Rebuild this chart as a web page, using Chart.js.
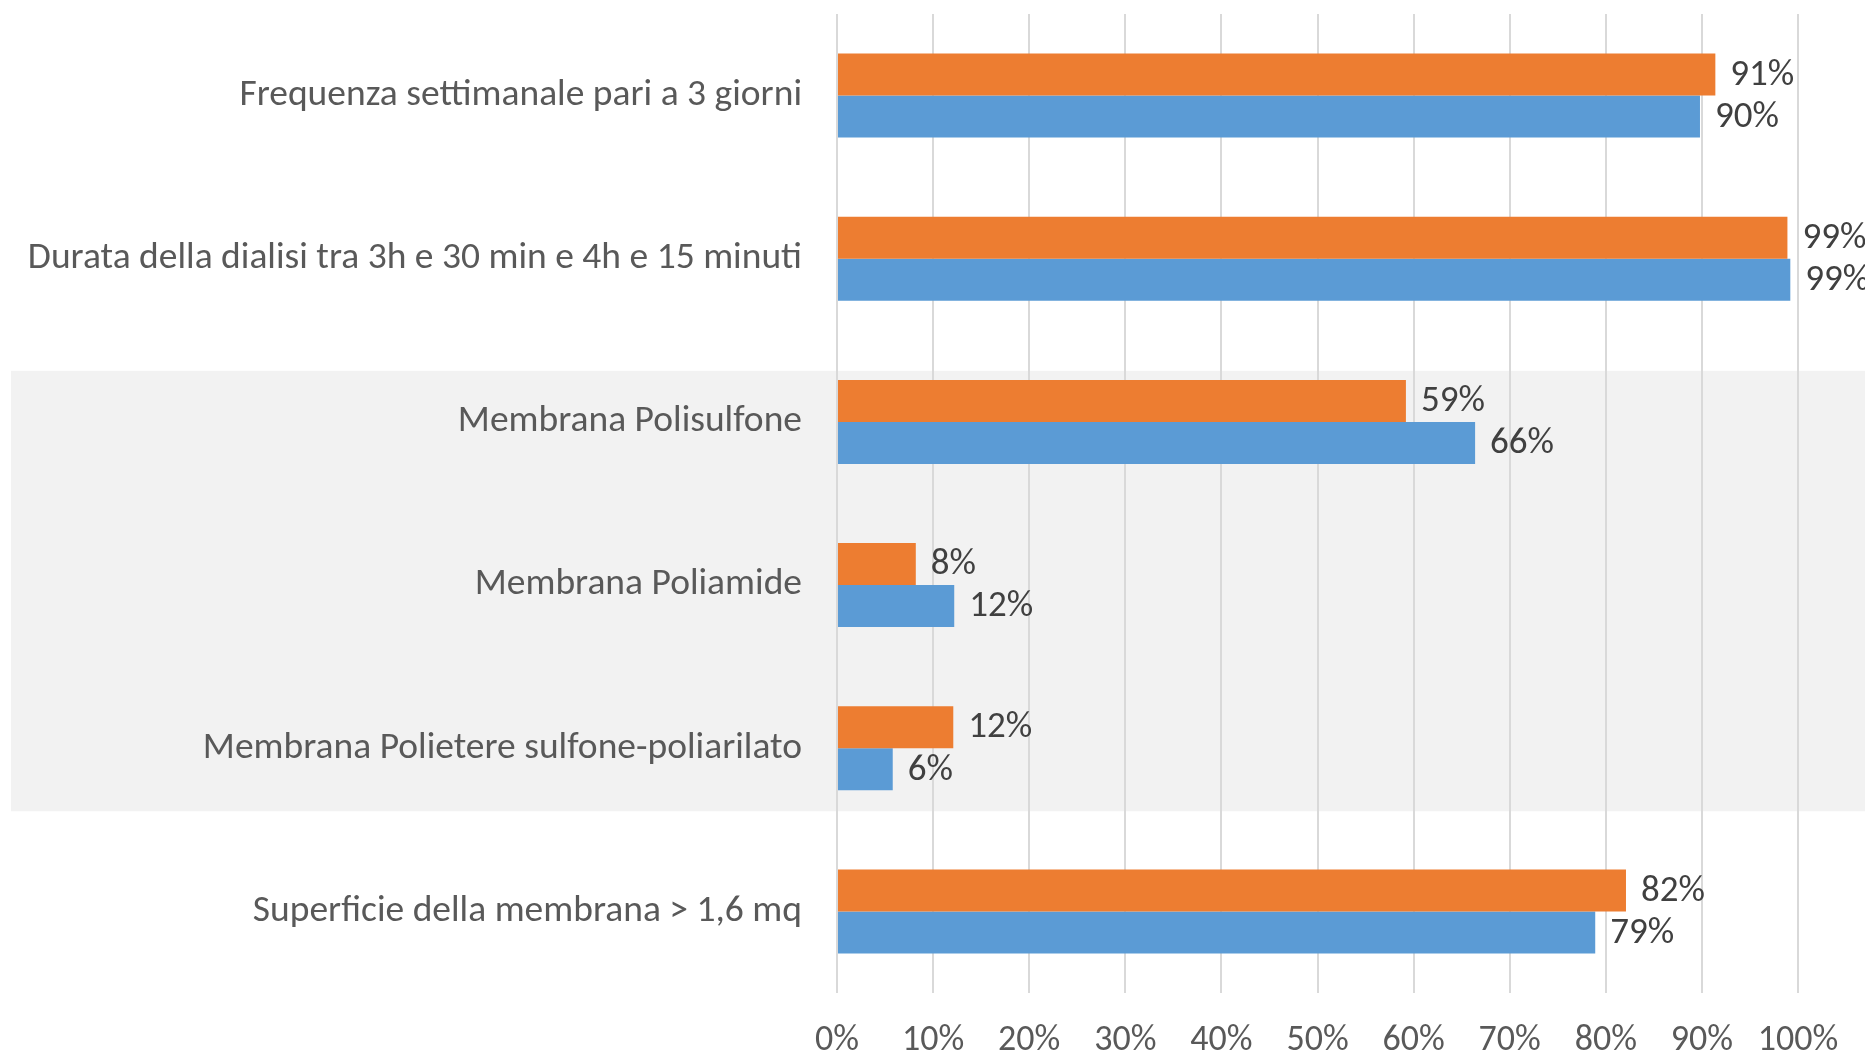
<!DOCTYPE html>
<html>
<head>
<meta charset="utf-8">
<script src="https://cdn.jsdelivr.net/npm/chart.js@4/dist/chart.umd.min.js"></script>
<style>
  html, body { margin: 0; padding: 0; background: #ffffff; }
  #wrap { width: 1865px; height: 1055px; }
</style>
</head>
<body>
<div id="wrap"><canvas id="chart"></canvas></div>
<script>
var categories = [
    "Frequenza settimanale pari a 3 giorni",
    "Durata della dialisi tra 3h e 30 min e 4h e 15 minuti",
    "Membrana Polisulfone",
    "Membrana Poliamide",
    "Membrana Polietere sulfone-poliarilato",
    "Superficie della membrana > 1,6 mq"
];
var orangeValues = [91.4, 98.9, 59.2, 8.2, 12.1, 82.1];
var blueValues = [89.8, 99.2, 66.4, 12.2, 5.8, 78.9];
var tickValues = [0, 10, 20, 30, 40, 50, 60, 70, 80, 90, 100];

var fontFamily = "Carlito, 'Liberation Sans Narrow', 'Open Sans', sans-serif";

// grey band behind the three "Membrana" rows
var bandPlugin = {
    id: 'band',
    beforeDraw: function (chart) {
        var ctx = chart.ctx;
        var y = chart.scales.y;
        var step = y.getPixelForValue(1) - y.getPixelForValue(0);
        var top = y.getPixelForValue(2) - step * 0.313;
        var bottom = y.getPixelForValue(4) + step * 0.386;
        ctx.save();
        ctx.fillStyle = '#f2f2f2';
        ctx.fillRect(11, top, chart.width - 11, bottom - top);
        ctx.restore();
    }
};

// value labels at the end of each bar
var valueLabels = {
    id: 'valueLabels',
    afterDatasetsDraw: function (chart) {
        var ctx = chart.ctx;
        ctx.save();
        ctx.font = '37px ' + fontFamily;
        ctx.fillStyle = '#404040';
        ctx.textBaseline = 'middle';
        ctx.textAlign = 'left';
        chart.data.datasets.forEach(function (ds, i) {
            chart.getDatasetMeta(i).data.forEach(function (bar, j) {
                ctx.fillText(Math.round(ds.data[j]) + '%', bar.x + 15, bar.y + 1);
            });
        });
        ctx.restore();
    }
};

var ctx1 = document.getElementById('chart').getContext('2d');
window.myBar = new Chart(ctx1, {
    type: 'bar',
    data: {
        labels: categories,
        datasets: [{
            label: 'Serie 2',
            backgroundColor: '#ED7D31',
            data: orangeValues
        }, {
            label: 'Serie 1',
            backgroundColor: '#5B9BD5',
            data: blueValues
        }]
    },
    options: {
        indexAxis: 'y',
        responsive: true,
        maintainAspectRatio: false,
        animation: false,
        layout: { padding: { top: 14, right: 67, bottom: 0, left: 0 } },
        datasets: { bar: { barPercentage: 1, categoryPercentage: 0.515 } },
        plugins: {
            legend: { display: false },
            tooltip: { enabled: false }
        },
        scales: {
            x: {
                min: 0,
                max: 100,
                afterBuildTicks: function (scale) {
                    scale.ticks = tickValues.map(function (v) { return { value: v }; });
                },
                afterFit: function (scale) { scale.height = 62; },
                grid: { color: '#d9d9d9', lineWidth: 2, drawTicks: false },
                border: { display: false },
                ticks: {
                    padding: 26,
                    color: '#595959',
                    font: { family: fontFamily, size: 36 },
                    callback: function (v) { return v + '%'; }
                }
            },
            y: {
                afterFit: function (scale) {
                    scale.width = 837;
                    scale.paddingTop = 0;
                    scale.paddingBottom = 0;
                },
                grid: { display: false },
                border: { display: false },
                ticks: {
                    padding: 27,
                    color: '#595959',
                    font: { family: fontFamily, size: 37.5 }
                }
            }
        }
    },
    plugins: [bandPlugin, valueLabels]
});
</script>
</body>
</html>
